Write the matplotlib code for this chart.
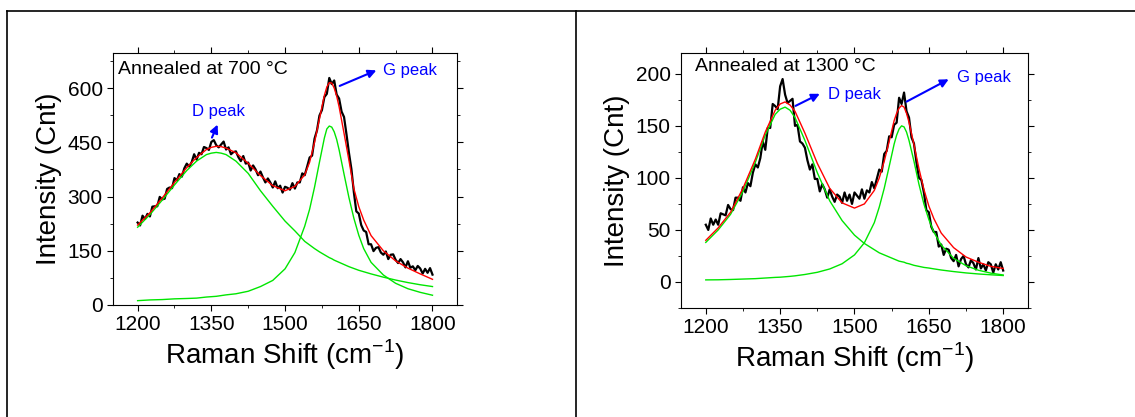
import numpy as np
import matplotlib
matplotlib.use("Agg")
import matplotlib.pyplot as plt
from matplotlib.lines import Line2D
from matplotlib.ticker import MultipleLocator

plt.rcParams["font.family"] = ["Liberation Sans", "DejaVu Sans"]
plt.rcParams["mathtext.fontset"] = "custom"
plt.rcParams["mathtext.rm"] = "Liberation Sans"

# measured spectra, one point every 5 cm-1 from 1200 to 1800
shift = np.arange(1200, 1801, 5)

counts_700 = [228, 220, 247, 238, 252, 245, 272, 273, 273, 299, 292, 294, 321, 325, 323, 351,
              345, 362, 355, 378, 391, 383, 395, 417, 402, 421, 417, 437, 434, 429, 451, 456,
              442, 436, 444, 452, 430, 436, 417, 423, 425, 409, 398, 412, 391, 394, 372, 386,
              375, 359, 369, 353, 339, 350, 339, 325, 342, 323, 330, 311, 327, 324, 319, 337,
              322, 339, 339, 364, 359, 383, 408, 413, 460, 483, 524, 539, 575, 584, 628, 611,
              621, 582, 571, 535, 520, 472, 421, 376, 312, 259, 253, 221, 206, 202, 168, 168,
              149, 158, 160, 145, 139, 148, 127, 139, 140, 125, 116, 127, 118, 104, 121, 103,
              107, 96, 108, 101, 87, 100, 89, 102, 84]

counts_1300 = [55, 50, 61, 55, 60, 55, 66, 65, 64, 74, 70, 69, 81, 81, 78, 91,
               86, 95, 92, 105, 113, 110, 119, 135, 127, 148, 148, 171, 169, 166, 188, 195,
               180, 172, 174, 176, 150, 151, 135, 133, 129, 117, 108, 113, 99, 99, 87, 94,
               89, 81, 89, 82, 77, 84, 82, 76, 86, 78, 84, 75, 86, 83, 80, 89,
               80, 88, 86, 96, 90, 99, 108, 106, 123, 126, 140, 139, 151, 153, 177, 171,
               182, 164, 158, 139, 133, 115, 100, 98, 86, 69, 67, 53, 48, 48, 34, 36,
               26, 32, 31, 23, 20, 26, 15, 22, 25, 17, 14, 21, 18, 12, 23, 13,
               17, 11, 19, 17, 9, 17, 12, 19, 11]

# fitted curves
fit_x = [1200, 1225, 1250, 1275, 1300, 1320, 1340, 1350, 1360, 1370, 1380, 1400, 1425,
         1450, 1475, 1500, 1520, 1540, 1550, 1560, 1570, 1580, 1585, 1590, 1595, 1600,
         1605, 1610, 1620, 1630, 1640, 1650, 1660, 1675, 1700, 1725, 1750, 1775, 1800]

d_700 = [215, 250, 290, 332, 372, 398, 416, 420, 422, 420, 416, 398, 364, 316, 273, 232,
         205, 176, 166, 156, 147, 139, 135, 131, 128, 124, 121, 118, 112, 106, 101, 96,
         92, 86, 77, 69, 62, 56, 51]
g_700 = [12, 14, 15, 17, 18, 19, 22, 23, 24, 26, 28, 31, 38, 51, 68, 100, 145, 218, 265,
         326, 395, 462, 487, 495, 492, 479, 458, 429, 362, 297, 240, 193, 156, 118, 83,
         60, 45, 35, 27]
sum_700 = [221, 255, 296, 339, 380, 408, 430, 436, 439, 438, 434, 421, 392, 358, 330, 316,
           328, 360, 395, 450, 515, 580, 603, 615, 614, 600, 578, 548, 475, 400, 322, 272,
           235, 192, 150, 122, 102, 86, 71]

d_1300 = [38, 50, 65, 87, 115, 141, 161, 166, 168, 165, 158, 136, 105, 78, 59, 45, 37, 31,
          28, 26, 24, 22, 21, 20, 19.5, 19, 18, 17.5, 16, 15, 14, 13.4, 12.6, 11.5, 10,
          8.7, 7.7, 6.9, 6.2]
g_1300 = [2, 2.1, 2.4, 2.8, 3.2, 3.8, 4.4, 4.6, 5.0, 5.4, 5.9, 7.2, 9.3, 12.5, 17.5, 26,
          37.7, 57, 72, 90, 111, 132.5, 141, 147, 150, 149, 144, 136, 116, 94, 75, 60, 48,
          35.5, 22.8, 15.6, 11.3, 8.5, 6.7]
sum_1300 = [40, 52, 67, 90, 118, 144, 165, 171, 173, 170, 164, 143, 114, 90, 76, 71, 75, 88,
            100, 116, 135, 155, 162, 167, 169.5, 168, 162, 153.5, 132, 109, 89, 73, 61, 47,
            33, 24, 19, 15, 13]

green = "#00e600"
blue = "#0000ff"

fig = plt.figure(figsize=(11.35, 4.17), dpi=100, facecolor="w")

# table frame around the two panels
fig.add_artist(Line2D([0.0064, 1.0], [0.9736, 0.9736], color="k", lw=1.2, transform=fig.transFigure))
fig.add_artist(Line2D([0.0064, 0.0064], [0.0, 0.9736], color="k", lw=1.2, transform=fig.transFigure))
fig.add_artist(Line2D([0.5075, 0.5075], [0.0, 0.9736], color="k", lw=1.2, transform=fig.transFigure))


def panel(rect, counts, d, g, total, ylim, ymajor):
    ax = fig.add_axes(rect)
    ax.plot(shift, counts, color="k", lw=1.6, zorder=1)
    ax.plot(fit_x, d, color=green, lw=1.0, zorder=2)
    ax.plot(fit_x, g, color=green, lw=1.0, zorder=2)
    ax.plot(fit_x, total, color="red", lw=1.0, zorder=3)
    ax.set_xlim(1150, 1850)
    ax.set_ylim(*ylim)
    ax.xaxis.set_major_locator(MultipleLocator(150))
    ax.xaxis.set_minor_locator(MultipleLocator(75))
    ax.yaxis.set_major_locator(MultipleLocator(ymajor))
    ax.yaxis.set_minor_locator(MultipleLocator(ymajor / 2))
    ax.tick_params(which="both", direction="out", top=True, right=True, labelsize=15)
    ax.tick_params(which="major", length=4)
    ax.tick_params(which="minor", length=2.5)
    ax.set_xlabel(r"Raman Shift (cm$^{\mathregular{-1}}$)", fontsize=20, labelpad=2)
    ax.set_ylabel("Intensity (Cnt)", fontsize=20, labelpad=4)
    return ax


ax1 = panel([0.0996, 0.2686, 0.3031, 0.6043], counts_700, d_700, g_700, sum_700, (0, 697), 150)
ax1.text(1160, 650, "Annealed at 700 \u00b0C", fontsize=14, va="center", ha="left")
ax1.text(1365, 536, "D peak", fontsize=12, color=blue, va="center", ha="center")
ax1.annotate("", xy=(1365, 506), xytext=(1349, 456),
             arrowprops=dict(arrowstyle="-|>", color=blue, lw=1.5, mutation_scale=12))
ax1.text(1699, 648, "G peak", fontsize=12, color=blue, va="center", ha="left")
ax1.annotate("", xy=(1691, 652), xytext=(1606, 603),
             arrowprops=dict(arrowstyle="-|>", color=blue, lw=1.5, mutation_scale=12))

ax2 = panel([0.6, 0.2614, 0.3057, 0.6115], counts_1300, d_1300, g_1300, sum_1300, (-25, 220), 50)
ax2.text(1178, 207, "Annealed at 1300 \u00b0C", fontsize=14, va="center", ha="left")
ax2.text(1447, 180, "D peak", fontsize=12, color=blue, va="center", ha="left")
ax2.annotate("", xy=(1435, 182), xytext=(1376, 168),
             arrowprops=dict(arrowstyle="-|>", color=blue, lw=1.5, mutation_scale=12))
ax2.text(1706, 196, "G peak", fontsize=12, color=blue, va="center", ha="left")
ax2.annotate("", xy=(1695, 196), xytext=(1600, 172),
             arrowprops=dict(arrowstyle="-|>", color=blue, lw=1.5, mutation_scale=12))

plt.savefig("out.png", dpi=100)
